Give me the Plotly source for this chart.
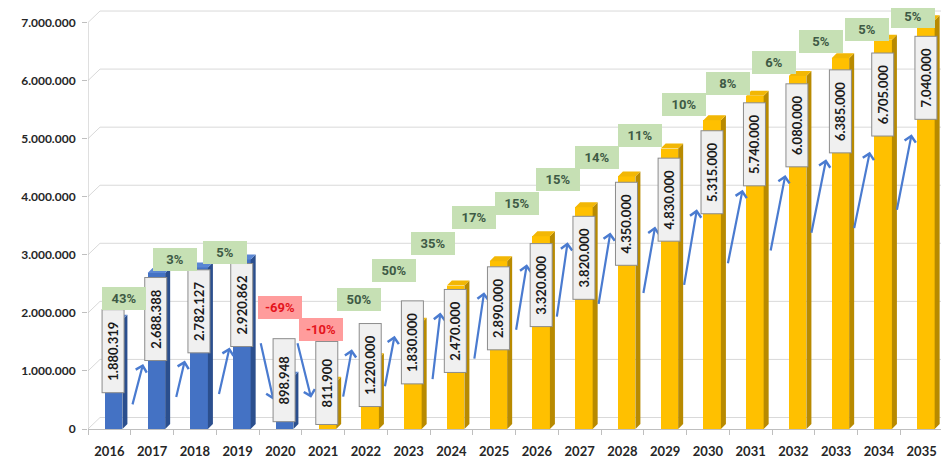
import plotly.graph_objects as go

# ---------------- data ----------------
years = [str(y) for y in range(2016, 2036)]
values = [1880319, 2688388, 2782127, 2920862, 898948, 811900, 1220000, 1830000,
          2470000, 2890000, 3320000, 3820000, 4350000, 4830000, 5315000, 5740000,
          6080000, 6385000, 6705000, 7040000]
# growth labels for 2017..2035
pct_labels = ["43%", "3%", "5%", "-69%", "-10%", "50%", "50%", "35%", "17%", "15%",
              "15%", "14%", "11%", "10%", "8%", "6%", "5%", "5%", "5%"]
n_actual = 5  # 2016-2020 blue, rest gold
y_ticks = [0, 1000000, 2000000, 3000000, 4000000, 5000000, 6000000, 7000000]

# ---------------- label layout (pixel nudges, as placed in the original) ----------------
val_box_dy = [31, 46, 44, 46, 3, 1, 7, 20, 45, 47, 49, 51, 47, 51, 52, 49, 49, 53, 55, 58]
pct_dx = [-28, -20, -13, 0, -2, -7, -15, -18, -20, -20, -22, -25, -25, -24, -23, -19, -15, -12, -9]
pct_dy = [26, -8, -7, -69, -52, -59, -52, -42, -44, -33, -28, -19, -13, -16, -12, -13, -17, -10, -4]
arr_dx = [-9, -10, -8, -7, -12, -14, -14, -11, -10, -10, -12, -12, -10, -11, -8, -8, -10, -9, -10]
arr_dy = [91, 93, 88, 23, 16, -9, 13, 27, 31, 28, 35, 56, 78, 89, 94, 99, 101, 112, 114]
arr_ax = [-11, -9, -11, -13, -14, -9, -10, -8, -10, -11, -11, -12, -12, -13, -15, -15, -15, -16, -15]
arr_ay = [42, 38, 48, -58, -56, 49, 52, 68, 68, 67, 76, 73, 68, 77, 75, 77, 75, 78, 77]

# ---------------- geometry / style ----------------
# the page body adds an 8px margin, so the figure is sized to fill the rest of the window
W, H = 941, 453
ML, MR, MT, MB = 80, 6, 0, 32
plot_w = W - ML - MR
plot_h = H - MT - MB
Y_MAX = 7.25e6
px_per_unit = plot_h / Y_MAX
px_per_cat = plot_w / len(years)

BAR_OFF = 0.10
BAR_W = 0.41
DX = 5 / px_per_cat
DY = 5 / px_per_unit

BLUE = dict(front="#4472C4", side="#2B4F8E", top="#5A86D3")
GOLD = dict(front="#FFC000", side="#B88A00", top="#F2B705")

idx = list(range(len(years)))

fig = go.Figure()

front_colors = [BLUE["front"] if i < n_actual else GOLD["front"] for i in idx]
fig.add_trace(go.Bar(x=[i + BAR_OFF for i in idx], y=values, width=BAR_W,
                     marker=dict(color=front_colors, line=dict(width=0)),
                     hoverinfo="skip", showlegend=False))


def faces(group):
    sx, sy, tx, ty = [], [], [], []
    for i in group:
        v = values[i]
        xl = i + BAR_OFF - BAR_W / 2
        xr = i + BAR_OFF + BAR_W / 2
        sx += [xr, xr + DX, xr + DX, xr, xr, None]
        sy += [0, DY, v + DY, v, 0, None]
        tx += [xl, xr, xr + DX, xl + DX, xl, None]
        ty += [v, v, v + DY, v + DY, v, None]
    return sx, sy, tx, ty


for group, col in ((idx[:n_actual], BLUE), (idx[n_actual:], GOLD)):
    sx, sy, tx, ty = faces(group)
    fig.add_trace(go.Scatter(x=sx, y=sy, mode="lines", fill="toself",
                             fillcolor=col["side"], line=dict(width=0, color=col["side"]),
                             hoverinfo="skip", showlegend=False))
    fig.add_trace(go.Scatter(x=tx, y=ty, mode="lines", fill="toself",
                             fillcolor=col["top"], line=dict(width=0, color=col["top"]),
                             hoverinfo="skip", showlegend=False))

# ---------------- back-wall gridlines (3D look) ----------------
shapes = []
wall_dx = 12 / px_per_cat
wall_dy = 11.5 / px_per_unit
for t in y_ticks:
    shapes.append(dict(type="line", xref="x", yref="y", x0=-0.5 + wall_dx, x1=19.5,
                       y0=t + wall_dy, y1=t + wall_dy, line=dict(color="#D9D9D9", width=1),
                       layer="below"))
    shapes.append(dict(type="line", xref="x", yref="y", x0=-0.5, x1=-0.5 + wall_dx,
                       y0=t, y1=t + wall_dy, line=dict(color="#D9D9D9", width=1),
                       layer="below"))
shapes.append(dict(type="line", xref="x", yref="y", x0=-0.5, x1=-0.5,
                   y0=0, y1=y_ticks[-1], line=dict(color="#BFBFBF", width=1), layer="below"))

# ---------------- annotations ----------------
ann = []
# arrows
for k in range(1, len(values)):
    j = k - 1
    ann.append(dict(x=k, y=values[k], xref="x", yref="y", text="", showarrow=True,
                    xshift=arr_dx[j], yshift=-arr_dy[j], ax=arr_ax[j], ay=arr_ay[j],
                    arrowhead=4, arrowsize=1.0, arrowwidth=2.2, arrowcolor="#4A7BD0",
                    standoff=0, startstandoff=0))
# value boxes
for i in idx:
    ann.append(dict(x=i, y=values[i], xref="x", yref="y",
                    text=f"{values[i]:,}".replace(",", "."), showarrow=False,
                    textangle=-90, xshift=4, yshift=-val_box_dy[i],
                    width=76, height=15, borderpad=3,
                    bgcolor="#F0F0F0", bordercolor="#8C8C8C", borderwidth=1,
                    font=dict(family="Lato", size=13, color="#1A1A1A", weight="bold")))
# growth boxes
for k in range(1, len(values)):
    j = k - 1
    neg = pct_labels[j].startswith("-")
    ann.append(dict(x=k, y=values[k], xref="x", yref="y", text=pct_labels[j],
                    showarrow=False, xshift=pct_dx[j], yshift=-pct_dy[j],
                    width=36, height=15, borderpad=3, borderwidth=1,
                    bgcolor="#FF9C9C" if neg else "#C6E0B4",
                    bordercolor="#FF9C9C" if neg else "#C6E0B4",
                    font=dict(family="Roboto", size=13,
                              color="#E5141C" if neg else "#3E5A45", weight="bold")))

fig.update_layout(
    width=W, height=H,
    margin=dict(l=ML, r=MR, t=MT, b=MB),
    paper_bgcolor="white", plot_bgcolor="white",
    separators=",.",
    bargap=0,
    shapes=shapes,
    annotations=ann,
    xaxis=dict(range=[-0.5, 19.5], tickmode="array", tickvals=idx, ticktext=years,
               showgrid=False, zeroline=False, showline=True, linecolor="#BFBFBF",
               ticks="", ticklabelstandoff=10, automargin=False,
               minor=dict(tick0=-0.5, dtick=1, ticks="outside", ticklen=5,
                          tickcolor="#BFBFBF", showgrid=False),
               tickfont=dict(family="Lato", size=13, color="#262626", weight="bold"),
               fixedrange=True),
    yaxis=dict(range=[0, Y_MAX], tickmode="array", tickvals=y_ticks, tickformat=",d",
               showgrid=False, zeroline=False, showline=False, automargin=False,
               ticks="outside", ticklen=5, tickcolor="#BFBFBF", ticklabelstandoff=4,
               tickfont=dict(family="Lato", size=12, color="#262626", weight="bold"),
               fixedrange=True),
)

fig.write_html("out.html")
